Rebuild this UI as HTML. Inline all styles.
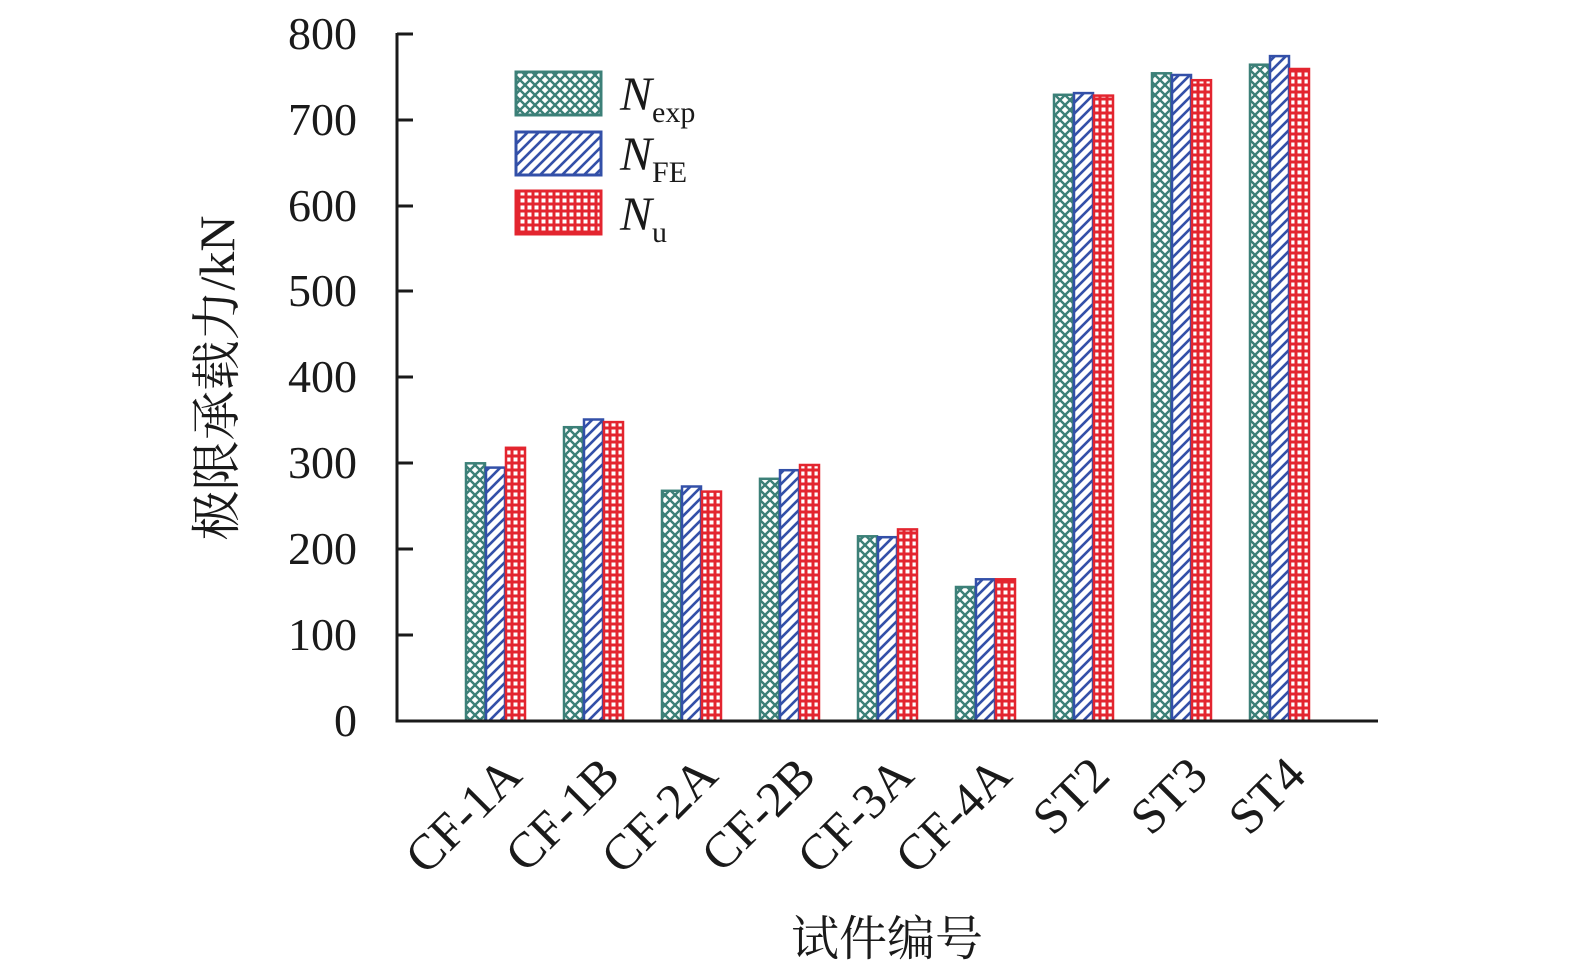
<!DOCTYPE html>
<html><head><meta charset="utf-8"><style>
html,body{margin:0;padding:0;background:#fff;}
svg{display:block;font-family:"Liberation Serif","Noto Serif CJK SC",serif;}
</style></head><body>
<svg width="1575" height="970" viewBox="0 0 1575 970" xmlns="http://www.w3.org/2000/svg">
<defs>
<pattern id="pt" width="10" height="10" patternUnits="userSpaceOnUse">
<rect width="10" height="10" fill="#fff"/>
<path d="M0,0L10,10M10,0L0,10M-1,9L1,11M9,-1L11,1M-1,1L1,-1M9,11L11,9" stroke="#3c8078" stroke-width="2.4"/>
</pattern>
<pattern id="pb" width="11" height="11" patternUnits="userSpaceOnUse">
<rect width="11" height="11" fill="#fff"/>
<path d="M0,11L11,0M-2,2L2,-2M9,13L13,9" stroke="#3350a8" stroke-width="2.6"/>
</pattern>
<pattern id="pr" width="7" height="7" patternUnits="userSpaceOnUse">
<rect width="7" height="7" fill="#e3252f"/>
<rect x="2.5" y="2.5" width="4" height="4" fill="#fff"/>
</pattern>
</defs>
<g stroke-width="2.5">
<g fill="url(#pt)" stroke="#3c8078">
<rect x="466" y="463.3" width="19" height="257.7"/>
<rect x="564" y="427.2" width="19" height="293.8"/>
<rect x="662" y="490.8" width="19" height="230.2"/>
<rect x="760" y="478.8" width="19" height="242.2"/>
<rect x="858" y="536.3" width="19" height="184.7"/>
<rect x="956" y="587.0" width="19" height="134.0"/>
<rect x="1054" y="94.8" width="19" height="626.2"/>
<rect x="1152" y="73.3" width="19" height="647.7"/>
<rect x="1250" y="64.7" width="19" height="656.3"/>
</g>
<g fill="url(#pb)" stroke="#3350a8">
<rect x="486" y="467.6" width="19" height="253.4"/>
<rect x="584" y="419.5" width="19" height="301.5"/>
<rect x="682" y="486.5" width="19" height="234.5"/>
<rect x="780" y="470.2" width="19" height="250.8"/>
<rect x="878" y="537.2" width="19" height="183.8"/>
<rect x="976" y="579.3" width="19" height="141.7"/>
<rect x="1074" y="93.1" width="19" height="627.9"/>
<rect x="1172" y="75.0" width="19" height="646.0"/>
<rect x="1270" y="56.1" width="19" height="664.9"/>
</g>
<g fill="url(#pr)" stroke="#e3252f">
<rect x="506" y="447.8" width="19" height="273.2"/>
<rect x="604" y="422.1" width="19" height="298.9"/>
<rect x="702" y="491.6" width="19" height="229.4"/>
<rect x="800" y="465.0" width="19" height="256.0"/>
<rect x="898" y="529.4" width="19" height="191.6"/>
<rect x="996" y="579.3" width="19" height="141.7"/>
<rect x="1094" y="95.6" width="19" height="625.4"/>
<rect x="1192" y="80.2" width="19" height="640.8"/>
<rect x="1290" y="69.0" width="19" height="652.0"/>
</g>
</g>
<path d="M397,33V721H1378" fill="none" stroke="#1a1a1a" stroke-width="3"/>
<g stroke="#1a1a1a" stroke-width="3">
<line x1="397" x2="413" y1="34" y2="34"/><line x1="397" x2="413" y1="120" y2="120"/>
<line x1="397" x2="413" y1="206" y2="206"/><line x1="397" x2="413" y1="291" y2="291"/>
<line x1="397" x2="413" y1="377" y2="377"/><line x1="397" x2="413" y1="463" y2="463"/>
<line x1="397" x2="413" y1="549" y2="549"/><line x1="397" x2="413" y1="635" y2="635"/>
</g>
<g font-size="46" fill="#1a1a1a" text-anchor="end">
<text x="357" y="49">800</text><text x="357" y="135">700</text><text x="357" y="221">600</text>
<text x="357" y="306">500</text><text x="357" y="392">400</text><text x="357" y="478">300</text>
<text x="357" y="564">200</text><text x="357" y="650">100</text><text x="357" y="736">0</text>
</g>
<text transform="translate(234,378) rotate(-90)" font-size="50" text-anchor="middle" fill="#1a1a1a">极限承载力/kN</text>
<text x="887" y="955" font-size="48" text-anchor="middle" fill="#1a1a1a">试件编号</text>
<g font-size="50" fill="#1a1a1a" text-anchor="end">
<text transform="translate(524,778) rotate(-45)">CF-1A</text>
<text transform="translate(622,778) rotate(-45)">CF-1B</text>
<text transform="translate(720,778) rotate(-45)">CF-2A</text>
<text transform="translate(818,778) rotate(-45)">CF-2B</text>
<text transform="translate(916,778) rotate(-45)">CF-3A</text>
<text transform="translate(1014,778) rotate(-45)">CF-4A</text>
<text transform="translate(1112,778) rotate(-45)">ST2</text>
<text transform="translate(1210,778) rotate(-45)">ST3</text>
<text transform="translate(1308,778) rotate(-45)">ST4</text>
</g>
<rect x="516" y="72" width="85" height="43" fill="url(#pt)" stroke="#3c8078" stroke-width="3"/>
<rect x="516" y="132" width="85" height="43" fill="url(#pb)" stroke="#3350a8" stroke-width="3"/>
<rect x="516" y="191" width="85" height="43" fill="url(#pr)" stroke="#e3252f" stroke-width="3"/>
<g font-size="48" fill="#1a1a1a">
<text x="620" y="110"><tspan font-style="italic">N</tspan><tspan font-size="30" dy="12">exp</tspan></text>
<text x="620" y="170"><tspan font-style="italic">N</tspan><tspan font-size="30" dy="12">FE</tspan></text>
<text x="620" y="230"><tspan font-style="italic">N</tspan><tspan font-size="30" dy="12">u</tspan></text>
</g>
</svg>
</body></html>
